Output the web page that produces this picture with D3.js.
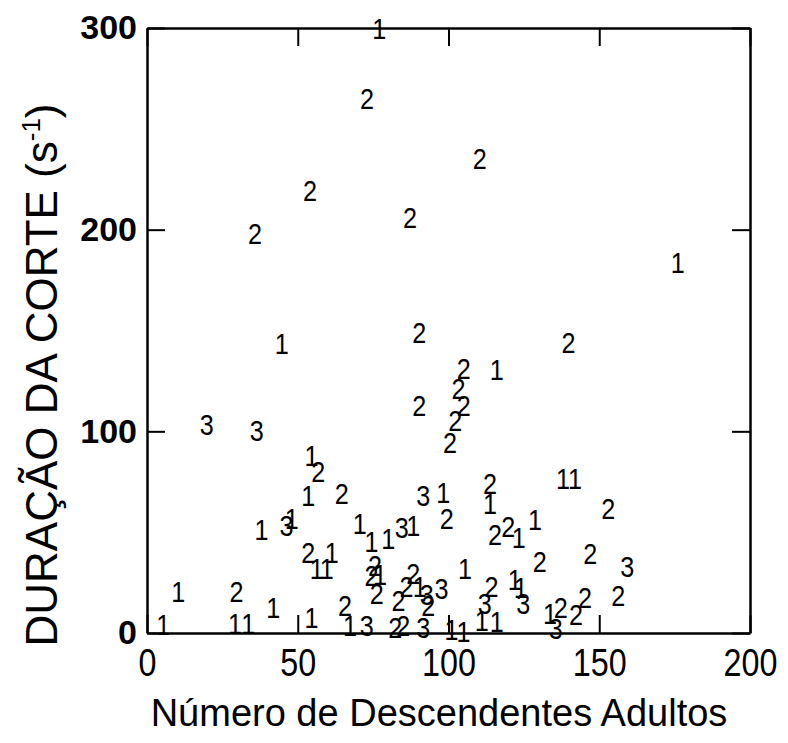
<!DOCTYPE html>
<html><head><meta charset="utf-8">
<script src="https://cdn.jsdelivr.net/npm/d3@7"></script>
<style>body{margin:0;background:#fff}svg{display:block}</style>
</head><body>
<svg id="c" width="788" height="743"></svg>
<script>
const xTicks = [0, 50, 100, 150, 200];
const yTicks = [0, 100, 200, 300];
const xTitle = "Número de Descendentes Adultos";
const yTitle = "DURAÇÃO DA CORTE (s";

const group1X = [77, 176, 44.7, 116, 54.6, 53.5, 98.3, 70.6, 74.5, 80, 88.3, 61.3, 56.3, 59.6, 77.3, 90.5, 105.5, 113.8, 138, 142, 128.7, 123.3, 122, 124, 111, 116, 133.7, 101, 105, 10.4, 41.9, 5.4, 29.2, 33.6, 38, 48, 54.6, 67.3];
const group1Y = [300, 184, 143.5, 131, 88, 68.5, 70, 54.5, 45.3, 47, 53.5, 40.3, 32, 32, 29, 23, 32, 64.3, 76.7, 76.7, 56.5, 47.7, 26.5, 22.5, 6.5, 6, 9.8, 2, 1, 20.5, 13, 4.5, 5, 5, 51.4, 57, 8, 4];

const group2X = [73, 110.4, 54.1, 87.2, 35.8, 90.3, 139.8, 105.1, 103.3, 105.1, 102.2, 90.3, 100.5, 56.8, 64.6, 99.4, 53.5, 75.6, 74.5, 76.2, 88.3, 86.1, 83.4, 93.3, 65.7, 82.3, 85, 113.8, 153, 119.8, 115.4, 130.3, 147, 114.3, 156.3, 145.3, 142.3, 137.2, 29.7];
const group2Y = [265, 235.3, 219.6, 206.4, 198.2, 149.4, 144.4, 131.2, 121.3, 113, 105.6, 113, 94.8, 80, 69.3, 56.9, 40.3, 33.7, 28.8, 19.7, 29.6, 23, 16.4, 13.9, 13.9, 3, 4, 74.2, 61.8, 53, 49, 35.4, 39.5, 23, 18.8, 18, 9.3, 13, 20.5];

const group3X = [19.8, 36.4, 46.3, 84.5, 91.6, 92.8, 97.7, 72.9, 91.6, 112, 124.8, 159.3, 135.6];
const group3Y = [103.5, 100.5, 53.5, 52.7, 68.4, 19, 22.2, 4, 3, 14.7, 14.7, 32.9, 2.3];

const groups = [
  {label: "1", xs: group1X, ys: group1Y},
  {label: "2", xs: group2X, ys: group2Y},
  {label: "3", xs: group3X, ys: group3Y}
];

const svg = d3.select("#c");
const L = 147, R = 750, T = 28, B = 633;
const x = d3.scaleLinear().domain([0, 200]).range([L, R]);
const y = d3.scaleLinear().domain([0, 300]).range([B, T]);
const font = "Arial, 'Liberation Sans', Helvetica, sans-serif";

function styleAxis(g){
  g.selectAll(".domain").attr("stroke", "#000").attr("stroke-width", 2.5);
  g.selectAll(".tick line").attr("stroke", "#000").attr("stroke-width", 2);
}

svg.append("g").attr("transform", `translate(0,${B})`)
  .call(d3.axisBottom(x).tickValues(xTicks).tickSizeInner(-18).tickSizeOuter(0).tickPadding(16).tickFormat(d3.format("d")))
  .call(styleAxis)
  .call(g => g.selectAll("text").attr("font-family", font).attr("font-size", 38).attr("fill", "#000")
     .attr("transform", "scale(0.85,1)"));

svg.append("g").attr("transform", `translate(0,${T})`)
  .call(d3.axisTop(x).tickValues(xTicks).tickSizeInner(-18).tickSizeOuter(0).tickFormat(""))
  .call(styleAxis);

svg.append("g").attr("transform", `translate(${L},0)`)
  .call(d3.axisLeft(y).tickValues(yTicks).tickSizeInner(-18).tickSizeOuter(0).tickPadding(10).tickFormat(d3.format("d")))
  .call(styleAxis)
  .call(g => g.selectAll("text").attr("font-family", font).attr("font-size", 34).attr("font-weight", "bold").attr("fill", "#000"));

svg.append("g").attr("transform", `translate(${R},0)`)
  .call(d3.axisRight(y).tickValues(yTicks).tickSizeInner(-18).tickSizeOuter(0).tickFormat(""))
  .call(styleAxis);

// markers
groups.forEach(gr => {
  svg.append("g").selectAll("text").data(gr.xs.map((v, i) => [v, gr.ys[i]]))
    .join("text")
    .attr("transform", d => `translate(${x(d[0])},${y(d[1])}) scale(0.84,1)`)
    .attr("dy", "0.36em")
    .attr("text-anchor", "middle")
    .attr("font-family", font)
    .attr("font-size", 30)
    .attr("fill", "#000")
    .text(gr.label);
});

// titles
svg.append("text").attr("x", 439).attr("y", 726).attr("text-anchor", "middle")
  .attr("font-family", font).attr("font-size", 38).attr("fill", "#000").text(xTitle);

const yt = svg.append("text").attr("transform", "translate(57,375) rotate(-90)").attr("text-anchor", "middle")
  .attr("font-family", font).attr("font-size", 44).attr("fill", "#000");
yt.append("tspan").text(yTitle);
yt.append("tspan").attr("font-size", 26).attr("dy", -17).text("-1");
yt.append("tspan").attr("dy", 17).text(")");
</script>
</body></html>
